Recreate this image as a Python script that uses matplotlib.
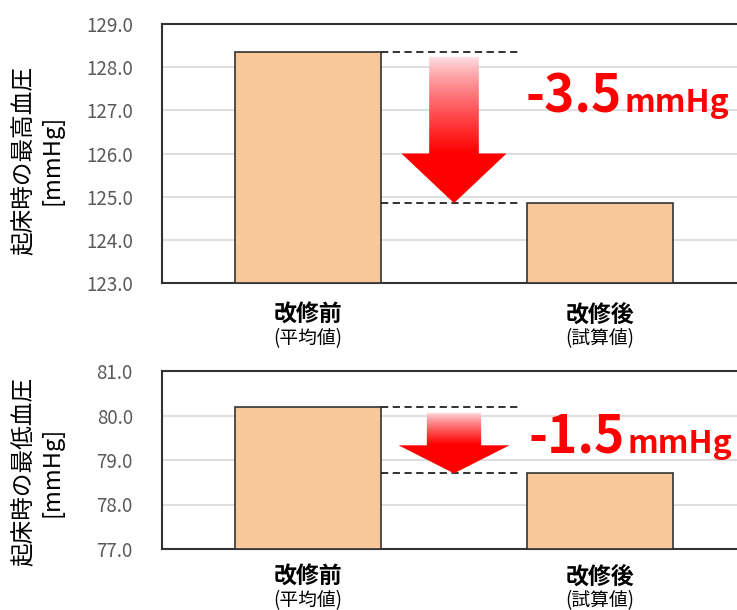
import numpy as np
import matplotlib
matplotlib.use('Agg')
import matplotlib.pyplot as plt
from matplotlib.patches import Polygon
from matplotlib.colors import to_rgb

plt.rcParams['font.family'] = ['Noto Sans CJK JP', 'DejaVu Sans']

categories = ['改修前', '改修後']
subtitles = ['(平均値)', '(試算値)']

systolic = [128.35, 124.85]
diastolic = [80.2, 78.7]

systolic_ticks = [123, 124, 125, 126, 127, 128, 129]
diastolic_ticks = [77, 78, 79, 80, 81]

bar_color = '#F9C898'
edge_color = '#333333'
tick_color = '#595959'
red = '#FF0000'

fig = plt.figure(figsize=(7.37, 6.10), dpi=100)

# axes run past the right edge of the figure on purpose
ax_top = fig.add_axes([162 / 737, 327 / 610, 584 / 737, 259 / 610])
ax_bot = fig.add_axes([162 / 737, 61 / 610, 584 / 737, 178 / 610])


def draw_drop(ax, x, top, tip, head_y, shaft_w, head_w):
    verts = [(x - shaft_w, top), (x + shaft_w, top), (x + shaft_w, head_y),
             (x + head_w, head_y), (x, tip), (x - head_w, head_y),
             (x - shaft_w, head_y)]
    poly = Polygon(verts, closed=True, facecolor='none', edgecolor='none',
                   transform=ax.transData)
    ax.add_patch(poly)

    n = 200
    ys = np.linspace(top, tip, n)
    frac = np.clip((top - ys) / (top - head_y), 0, 1) ** 0.8
    pale = np.array([0.99, 0.90, 0.92])
    full = np.array(to_rgb(red))
    cols = pale[None, :] * (1 - frac[:, None]) + full[None, :] * frac[:, None]
    img = np.repeat(cols[:, None, :], 2, axis=1)
    im = ax.imshow(img, extent=(x - head_w, x + head_w, tip, top),
                   aspect='auto', interpolation='bilinear', zorder=4)
    im.set_clip_path(poly)


def panel(ax, values, ticks, label, label_y, arrow, text_pos, cat_off):
    xs = np.arange(len(values))
    ax.bar(xs, [v - ticks[0] for v in values], bottom=ticks[0], width=0.5,
           color=bar_color, edgecolor=edge_color, linewidth=1.2, zorder=3)

    ax.set_xlim(-0.5, 1.5)
    ax.set_ylim(ticks[0], ticks[-1])
    ax.set_yticks(ticks)
    ax.set_yticklabels([f'{t:.1f}' for t in ticks], fontsize=13.5,
                       color=tick_color)
    ax.tick_params(axis='y', length=0, pad=21)
    ax.set_xticks([])
    ax.grid(axis='y', color='#D9D9D9', linewidth=1.2, zorder=0)
    ax.set_axisbelow(True)
    for s in ax.spines.values():
        s.set_color(edge_color)
        s.set_linewidth(1.5)

    for i, (c, sub) in enumerate(zip(categories, subtitles)):
        ax.annotate(c, xy=(i, 0), xycoords=('data', 'axes fraction'),
                    xytext=(0, cat_off[0]), textcoords='offset points',
                    ha='center', va='center', fontsize=16.5, fontweight='bold')
        ax.annotate(sub, xy=(i, 0), xycoords=('data', 'axes fraction'),
                    xytext=(0, cat_off[1]), textcoords='offset points',
                    ha='center', va='center', fontsize=13.5)

    before, after = values
    # dashed guides from the two bar tops
    ax.plot([0.25, 0.72], [before, before], color='#222222', lw=1.3,
            ls=(0, (4, 2.5)), zorder=3)
    ax.plot([0.25, 0.72], [after, after], color='#222222', lw=1.3,
            ls=(0, (4, 2.5)), zorder=3)

    top_gap, head_y, shaft_w, head_w = arrow
    draw_drop(ax, 0.5, before - top_gap, after, head_y, shaft_w, head_w)

    ax.set_xlim(-0.5, 1.5)
    ax.set_ylim(ticks[0], ticks[-1])

    t1 = ax.text(text_pos[0], text_pos[1], f'{after - before:.1f}',
                 transform=ax.get_xaxis_transform(), color=red,
                 fontsize=37, fontweight='bold', ha='left', va='baseline')
    ax.annotate('mmHg', xy=(1, text_pos[1]), xycoords=(t1, 'axes fraction'),
                xytext=(2, 0), textcoords='offset points', color=red,
                fontsize=23, fontweight='bold', ha='left', va='baseline')

    fig.text(38 / 737, label_y, label + '\n[mmHg]', rotation=90,
             ha='center', va='center', multialignment='center',
             fontsize=17, linespacing=1.3)


panel(ax_top, systolic, systolic_ticks, '起床時の最高血圧', 1 - 160 / 610,
      (0.11, 126.0, 0.085, 0.18), (0.745, 0.66), (-23, -40))
panel(ax_bot, diastolic, diastolic_ticks, '起床時の最低血圧', 1 - 472 / 610,
      (0.14, 79.33, 0.093, 0.19), (0.755, 0.54), (-20, -37))

fig.savefig('out.png', dpi=100)
